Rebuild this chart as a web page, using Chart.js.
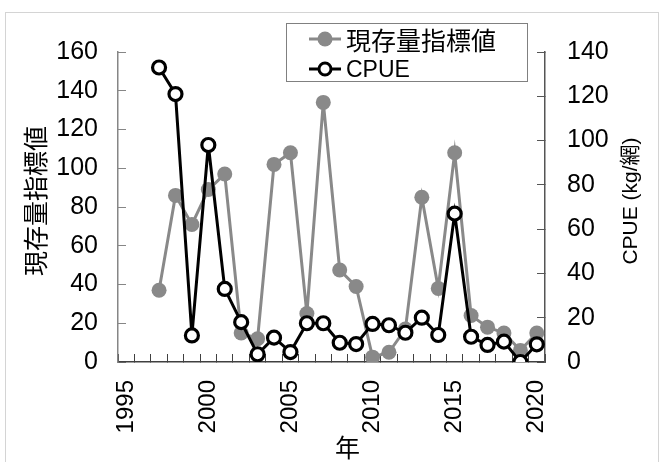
<!DOCTYPE html>
<html>
<head>
<meta charset="utf-8">
<script src="https://cdn.jsdelivr.net/npm/chart.js@4"></script>
<style>
  html, body { margin: 0; padding: 0; background: #fff; }
  #wrap { position: relative; width: 660px; height: 462px; overflow: hidden; }
  #legend {
    position: absolute; left: 286px; top: 23px; width: 240px; height: 57px;
    border: 1.5px solid #808080; background: #fff;
  }
  .row { position: absolute; left: 22px; height: 30px; display: flex; align-items: center; }
  .row span { margin-left: 5px; color: #000; white-space: nowrap; }
  .jp { font: 25px 'Noto Sans CJK JP', sans-serif; }
  .en { font: 23px 'Liberation Sans', sans-serif; }
</style>
</head>
<body>
<div id="wrap">
  <canvas id="grafico" width="660" height="462"></canvas>
  <div id="legend"></div>
</div>
<script>
// Dados
const anos = [1997, 1998, 1999, 2000, 2001, 2002, 2003, 2004, 2005, 2006, 2007, 2008,
              2009, 2010, 2011, 2012, 2013, 2014, 2015, 2016, 2017, 2018, 2019, 2020];
const indiceEstoque = [37, 86, 71, 89, 97, 15, 12, 102, 108, 25, 134, 47.5,
                       39, 2.5, 5, 17, 85, 38, 108, 24, 18, 15, 6, 15];
const cpue = [133, 121, 12, 98, 33, 18, 3.5, 11, 4.5, 17.5, 17.5, 8.7,
              8.1, 17.2, 16.6, 13.2, 20, 12.2, 67, 11.4, 7.7, 9.2, 0, 8];

// Eixos e textos
const anosEixo = [1995, 1996, 1997, 1998, 1999, 2000, 2001, 2002, 2003, 2004, 2005, 2006, 2007,
                  2008, 2009, 2010, 2011, 2012, 2013, 2014, 2015, 2016, 2017, 2018, 2019, 2020];
const nomeSerie1 = '現存量指標値';
const nomeSerie2 = 'CPUE';
const tituloEsq = '現存量指標値';
const tituloDir = 'CPUE (kg/網)';
const tituloX = '年';

const cinza = '#898989';
const fonteNum = "'Liberation Sans', 'Noto Sans CJK JP', sans-serif";
const fonteJp = "'Noto Sans CJK JP', sans-serif";

Chart.defaults.font.family = fonteNum;
Chart.defaults.color = '#000';

// moldura externa e títulos dos eixos
const extras = {
  id: 'extras',
  beforeDraw(chart) {
    const ctx = chart.ctx;
    ctx.save();
    ctx.strokeStyle = '#d4d4d4';
    ctx.lineWidth = 1;
    ctx.strokeRect(5.5, 12.5, 653, 470);
    ctx.restore();
  },
  afterDraw(chart) {
    const ctx = chart.ctx;
    const area = chart.chartArea;
    const meioY = (area.top + area.bottom) / 2 - 6;
    ctx.save();
    ctx.fillStyle = '#000';
    ctx.textAlign = 'center';
    ctx.textBaseline = 'middle';

    ctx.font = '25px ' + fonteJp;
    ctx.save();
    ctx.translate(area.left - 83, meioY);
    ctx.rotate(-Math.PI / 2);
    ctx.fillText(tituloEsq, 0, 0);
    ctx.restore();

    ctx.fillText(tituloX, (area.left + area.right) / 2 + 16, area.bottom + 85);

    ctx.font = '21px ' + fonteNum;
    ctx.save();
    ctx.translate(area.right + 86, meioY);
    ctx.rotate(-Math.PI / 2);
    ctx.fillText(tituloDir, 0, 0);
    ctx.restore();

    ctx.restore();
  }
};

const pontos = (valores) => valores.map((v, i) => ({ x: String(anos[i]), y: v }));

new Chart(document.getElementById('grafico'), {
  type: 'line',
  data: {
    labels: anosEixo.map(String),
    datasets: [
      {
        label: nomeSerie1,
        data: pontos(indiceEstoque),
        yAxisID: 'y',
        borderColor: cinza,
        backgroundColor: cinza,
        borderWidth: 3,
        pointRadius: 7.5,
        pointBorderWidth: 0,
        pointBackgroundColor: cinza,
        tension: 0,
        order: 2
      },
      {
        label: nomeSerie2,
        data: pontos(cpue),
        yAxisID: 'y1',
        borderColor: '#000',
        backgroundColor: '#fff',
        borderWidth: 3,
        pointRadius: 6.5,
        pointBorderWidth: 3.2,
        pointBackgroundColor: '#fff',
        pointBorderColor: '#000',
        tension: 0,
        order: 1
      }
    ]
  },
  options: {
    responsive: false,
    animation: false,
    layout: { padding: { top: 52, left: 0, right: 0, bottom: 0 } },
    plugins: { legend: { display: false }, tooltip: { enabled: false } },
    scales: {
      x: {
        type: 'category',
        offset: true,
        grid: { offset: true, drawOnChartArea: false, tickLength: -8, tickColor: '#404040' },
        border: { color: '#404040', width: 1.5 },
        ticks: {
          autoSkip: false, minRotation: 90, maxRotation: 90, padding: 26,
          font: { size: 24 },
          callback: function (v, i) { return anosEixo[i] % 5 === 0 ? String(anosEixo[i]) : ''; }
        },
        afterFit: (s) => { s.height = 100; }
      },
      y: {
        position: 'left',
        min: 0, max: 160,
        grid: { drawOnChartArea: false, tickLength: -8, tickColor: '#868686' },
        border: { color: '#868686', width: 1.5 },
        ticks: { stepSize: 20, padding: 28, font: { size: 25 } },
        afterFit: (s) => { s.width = 118; }
      },
      y1: {
        position: 'right',
        min: 0, max: 140,
        grid: { drawOnChartArea: false, tickLength: -8, tickColor: '#555' },
        border: { color: '#555', width: 1.5 },
        ticks: { stepSize: 20, padding: 30, font: { size: 25 } },
        afterFit: (s) => { s.width = 115; }
      }
    }
  },
  plugins: [extras]
});

// legenda em HTML
function marcador(cheio) {
  const cor = cheio ? cinza : '#000';
  const circ = cheio
    ? `<circle cx="16" cy="10" r="7.5" fill="${cinza}"/>`
    : `<circle cx="16" cy="10" r="6" fill="#fff" stroke="#000" stroke-width="3"/>`;
  return `<svg width="32" height="20"><line x1="0" y1="10" x2="32" y2="10" stroke="${cor}" stroke-width="3"/>${circ}</svg>`;
}
document.getElementById('legend').innerHTML = `
  <div class="row" style="top:0px">${marcador(true)}<span class="jp">${nomeSerie1}</span></div>
  <div class="row" style="top:30px">${marcador(false)}<span class="en">${nomeSerie2}</span></div>
`;
</script>
</body>
</html>
